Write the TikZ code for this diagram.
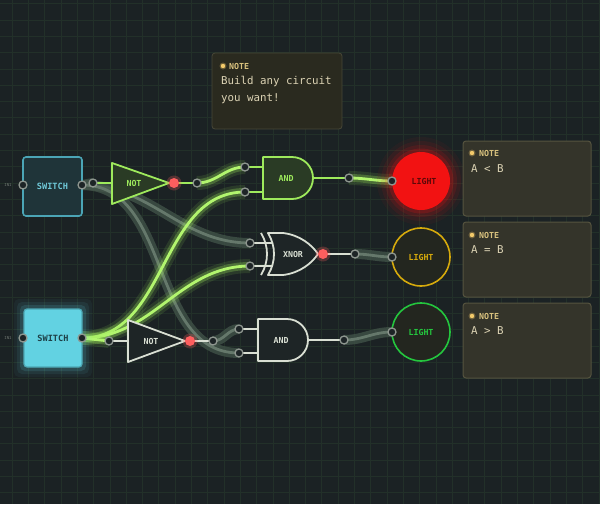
\documentclass[tikz,border=0pt]{standalone}
\usepackage{fontspec}
\setmonofont{DejaVu Sans Mono}
\usepackage{tikz}
\usepackage{xcolor}
\definecolor{bgcol}{HTML}{1B2224}
\definecolor{gridcol}{HTML}{223029}
\definecolor{limecol}{HTML}{9EEA5C}
\definecolor{limecore}{HTML}{B2F56E}
\definecolor{gateonfill}{HTML}{2A3B25}
\definecolor{gateofffill}{HTML}{1E2526}
\definecolor{gateoffline}{HTML}{D9DFD3}
\definecolor{offcore}{HTML}{65786B}
\definecolor{offhalo}{HTML}{43554A}
\definecolor{portline}{HTML}{8E968F}
\definecolor{portfill}{HTML}{1D2426}
\definecolor{reddot}{HTML}{FF5E5E}
\definecolor{swonefill}{HTML}{1F3439}
\definecolor{swoneline}{HTML}{4BA5B6}
\definecolor{swonetext}{HTML}{6FC8D8}
\definecolor{swtwofill}{HTML}{62D2E2}
\definecolor{swtwotext}{HTML}{1D3F46}
\definecolor{notefill}{HTML}{34342A}
\definecolor{noteline}{HTML}{55533F}
\definecolor{notehead}{HTML}{D9C27E}
\definecolor{notedot}{HTML}{F2C96A}
\definecolor{notetext}{HTML}{DCD3B4}
\definecolor{lightred}{HTML}{F21212}
\definecolor{lightredtxt}{HTML}{5C0808}
\definecolor{lightyel}{HTML}{D6AA0C}
\definecolor{lightgrn}{HTML}{24C63E}
\definecolor{lightfill}{HTML}{23261F}
\definecolor{smalltxt}{HTML}{6D7570}
\tikzset{
  port/.style={circle, draw=portline, fill=portfill, line width=1.3pt, inner sep=0pt, minimum size=8pt},
  outdot/.style={circle, fill=reddot, inner sep=0pt, minimum size=10pt},
  wireon/.style={draw=limecore, line width=2.8pt,
    preaction={draw=limecol, line width=14pt, opacity=0.12},
    preaction={draw=limecol, line width=8pt, opacity=0.28}},
  wireoff/.style={draw=offcore, line width=2.8pt,
    preaction={draw=offhalo, line width=10pt, opacity=0.75}},
  gateon/.style={draw=limecol, fill=gateonfill, line width=1.8pt, line join=round},
  gateoff/.style={draw=gateoffline, fill=gateofffill, line width=1.8pt, line join=round},
  legon/.style={draw=limecol, line width=1.8pt},
  legoff/.style={draw=gateoffline, line width=1.8pt},
  gatelbl/.style={font=\ttfamily\bfseries\fontsize{8.3}{9}\selectfont, inner sep=0pt},
  notebox/.style={fill=notefill, draw=noteline, line width=1pt, rounded corners=3pt},
  notehd/.style={font=\ttfamily\bfseries\fontsize{8.3}{9}\selectfont, text=notehead, anchor=west, inner sep=0pt},
  notebd/.style={font=\ttfamily\fontsize{10.8}{17}\selectfont, text=notetext, anchor=north west, align=left, inner sep=0pt},
  tinylbl/.style={font=\ttfamily\fontsize{4}{4}\selectfont, text=smalltxt, inner sep=0pt}
}
\begin{document}
\begin{tikzpicture}[x=1pt, y=-1pt]
\useasboundingbox (0,0) rectangle (600,504);
\fill[bgcol] (0,0) rectangle (600,504);
% grid
\foreach \gx in {0,...,36} \draw[gridcol, line width=0.9pt] ({12.2+16.3*\gx},0) -- ({12.2+16.3*\gx},504);
\foreach \gy in {0,...,30} \draw[gridcol, line width=0.9pt] (0,{3.8+16.3*\gy}) -- (600,{3.8+16.3*\gy});

% port positions
\coordinate (sw1in) at (23,185);
\coordinate (sw1out) at (82,185);
\coordinate (sw2in) at (23,338);
\coordinate (sw2out) at (82,338);
\coordinate (not1in) at (93,183);
\coordinate (not1out) at (174,183);
\coordinate (not1port) at (197,183);
\coordinate (and1a) at (245,167);
\coordinate (and1b) at (245,192);
\coordinate (and1out) at (349,178);
\coordinate (xnora) at (250,243);
\coordinate (xnorb) at (250,266);
\coordinate (xnorout) at (323,254);
\coordinate (xnorport) at (355,254);
\coordinate (not2in) at (109,341);
\coordinate (not2out) at (190,341);
\coordinate (not2port) at (213,341);
\coordinate (and2a) at (239,329);
\coordinate (and2b) at (239,353);
\coordinate (and2out) at (344,340);
\coordinate (lt1in) at (392,181);
\coordinate (lt2in) at (392,257);
\coordinate (lt3in) at (392,332);

% wires, off
\draw[wireoff] (sw1out) -- (not1in);
\draw[wireoff] (sw1out) to[out=0, in=180] (xnora);
\draw[wireoff] (sw1out) to[out=0, in=180] (and2b);
\draw[wireoff] (not2port) to[out=0, in=180] (and2a);
\draw[wireoff] (xnorport) to[out=0, in=180] (lt2in);
\draw[wireoff] (and2out) to[out=0, in=180] (lt3in);
% wires, on
\draw[wireon] (sw2out) to[out=0, in=180] (and1b);
\draw[wireon] (sw2out) to[out=0, in=180] (xnorb);
\draw[wireon] (sw2out) -- (not2in);
\draw[wireon] (not1port) to[out=0, in=180] (and1a);
\draw[wireon] (and1out) to[out=0, in=180] (lt1in);

% switches
\filldraw[fill=swonefill, draw=swoneline, line width=1.6pt, rounded corners=3pt] (23,157) rectangle (82,216);
\node[font=\ttfamily\bfseries\fontsize{8.6}{9}\selectfont, text=swonetext] (sw1) at (52.5,186) {SWITCH};
\foreach \g/\o in {10/0.05, 7/0.08, 4/0.14}
  \fill[swtwofill, opacity=\o, rounded corners=5pt] ({24-\g},{309-\g}) rectangle ({82+\g},{367+\g});
\filldraw[fill=swtwofill, draw=swtwofill!80!black, line width=1.2pt, rounded corners=3pt] (24,309) rectangle (82,367);
\node[font=\ttfamily\bfseries\fontsize{8.6}{9}\selectfont, text=swtwotext] (sw2) at (53,338) {SWITCH};
\node[tinylbl] (sw1lbl) at (8,185) {IN1};
\node[tinylbl] (sw2lbl) at (8,338) {IN1};

% top NOT
\draw[legon] (not1in) -- (112,183);
\draw[legon] (not1out) -- (not1port);
\filldraw[gateon] (112,163) -- (169,183) -- (112,204) -- cycle;
\node[gatelbl, text=limecol] (not1) at (134,183) {NOT};
% top AND
\draw[legon] (and1a) -- (263,167);
\draw[legon] (and1b) -- (263,192);
\draw[legon] (313,178) -- (and1out);
\filldraw[gateon] (263,157) -- (292,157) arc (-90:90:21) -- (263,199) -- cycle;
\node[gatelbl, text=limecol] (and1) at (286,178) {AND};
% XNOR
\draw[legoff] (xnora) -- (272,243);
\draw[legoff] (xnorb) -- (272,266);
\draw[legoff] (xnorout) -- (xnorport);
\filldraw[gateoff] (268,233) -- (283,233) .. controls (300,235) and (312,245) .. (318,254)
  .. controls (312,263) and (300,273) .. (283,275) -- (268,275)
  .. controls (276,262) and (276,246) .. (268,233) -- cycle;
\draw[legoff] (261,233) .. controls (269,246) and (269,262) .. (261,275);
\node[gatelbl, text=gateoffline] (xnor) at (293,254) {XNOR};
% bottom NOT
\draw[legoff] (not2in) -- (128,341);
\draw[legoff] (not2out) -- (not2port);
\filldraw[gateoff] (128,320) -- (185,341) -- (128,362) -- cycle;
\node[gatelbl, text=gateoffline] (not2) at (151,341) {NOT};
% bottom AND
\draw[legoff] (and2a) -- (258,329);
\draw[legoff] (and2b) -- (258,353);
\draw[legoff] (308,340) -- (and2out);
\filldraw[gateoff] (258,319) -- (287,319) arc (-90:90:21) -- (258,361) -- cycle;
\node[gatelbl, text=gateoffline] (and2) at (281,340) {AND};

% lights
\foreach \g/\o in {15/0.05, 11/0.08, 7/0.12, 3.5/0.2}
  \fill[lightred, opacity=\o] (421,181) circle ({29+\g});
\fill[lightred] (421,181) circle (29);
\node[gatelbl, text=lightredtxt] (light1) at (424,181) {LIGHT};
\filldraw[fill=lightfill, draw=lightyel, line width=1.6pt] (421,257) circle (29);
\node[gatelbl, text=lightyel] (light2) at (421,257) {LIGHT};
\filldraw[fill=lightfill, draw=lightgrn, line width=1.6pt] (421,332) circle (29);
\node[gatelbl, text=lightgrn] (light3) at (421,332) {LIGHT};

% ports
\foreach \p in {sw1in, sw1out, sw2in, sw2out, not1in, not1port, and1a, and1b, and1out,
  xnora, xnorb, xnorport, not2in, not2port, and2a, and2b, and2out, lt1in, lt2in, lt3in}
  \node[port] at (\p) {};
\foreach \p in {not1out, xnorout, not2out} {
  \fill[reddot, opacity=0.25] (\p) circle (7.5);
  \node[outdot] at (\p) {};
}

% notes
\filldraw[fill=notefill!105!white, draw=noteline!60!notefill, line width=0.8pt, rounded corners=3pt] (212,53) rectangle (342,129);
\fill[notedot, opacity=0.3] (223,66) circle (3.5);
\fill[notedot] (223,66) circle (2.2);
\node[notehd] (note1hd) at (229,66) {NOTE};
\node[notebd] (note1) at (221,76) {Build any circuit\\you want!};
\filldraw[notebox] (463,141) rectangle (591,216);
\fill[notedot, opacity=0.3] (472,153) circle (3.5);
\fill[notedot] (472,153) circle (2.2);
\node[notehd] (note2hd) at (479,153) {NOTE};
\node[notebd] (note2) at (471,164) {A < B};
\filldraw[notebox] (463,222) rectangle (591,297);
\fill[notedot, opacity=0.3] (472,235) circle (3.5);
\fill[notedot] (472,235) circle (2.2);
\node[notehd] (note3hd) at (479,235) {NOTE};
\node[notebd] (note3) at (471,245) {A = B};
\filldraw[notebox] (463,303) rectangle (591,378);
\fill[notedot, opacity=0.3] (472,316) circle (3.5);
\fill[notedot] (472,316) circle (2.2);
\node[notehd] (note4hd) at (479,316) {NOTE};
\node[notebd] (note4) at (471,326) {A > B};
\end{tikzpicture}
\end{document}
